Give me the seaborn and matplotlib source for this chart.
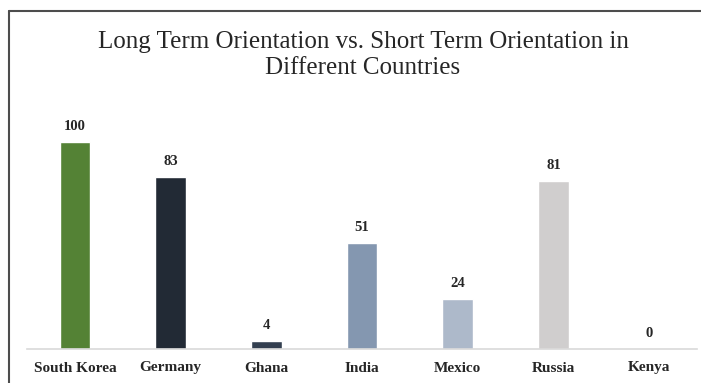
import matplotlib
matplotlib.use("Agg")
import matplotlib.pyplot as plt
from matplotlib.lines import Line2D
import seaborn as sns
import pandas as pd

countries = ["South Korea", "Germany", "Ghana", "India", "Mexico", "Russia", "Kenya"]
scores = [100, 83, 4, 51, 24, 81, 0]
bar_colors = ["#548235", "#222A35", "#333F50", "#8497B0", "#ADB9CA", "#D0CECE", "#D0CECE"]
title = "Long Term Orientation vs. Short Term Orientation in\nDifferent Countries"

df = pd.DataFrame({"country": countries, "score": scores})

sns.set_theme(style="white")
plt.rcParams["font.family"] = ["Liberation Serif", "DejaVu Serif"]

fig = plt.figure(figsize=(7.01, 3.83), dpi=100)
fig.patch.set_facecolor("white")
# axes: x from 27 to 697 px, y from 121 (top) to 349 (baseline) px
W, H = 701, 383
ax = fig.add_axes([27 / W, (H - 349) / H, 670 / W, 228 / H])

sns.barplot(data=df, x="country", y="score", hue="country", palette=bar_colors,
            legend=False, width=0.32, ax=ax, saturation=1)

ax.set_ylim(0, 110)
ax.set_xlim(-0.5, 6.5)
ax.set_xlabel("")
ax.set_ylabel("")
ax.set_yticks([])
for side in ["top", "right", "left"]:
    ax.spines[side].set_visible(False)
ax.spines["bottom"].set_color("#D9D9D9")
ax.spines["bottom"].set_linewidth(1.2)
ax.tick_params(axis="x", length=0, pad=9)
for lbl in ax.get_xticklabels():
    lbl.set_fontweight("bold")
    lbl.set_fontsize(11)
    lbl.set_color("#262626")

for i, v in enumerate(scores):
    ax.annotate(str(v), (i, v), xytext=(0, 6.5), textcoords="offset points",
                ha="center", va="bottom", fontsize=10.5, fontweight="bold",
                color="#262626")

fig.text(363 / W, 1 - 55 / H, title, ha="center", va="center",
         fontsize=18, color="#262626", linespacing=1.25)

# frame lines along the top and left edges
fig.add_artist(Line2D([9 / W, 1.0], [1 - 11 / H, 1 - 11 / H], color="#4D4D4D", lw=1.5))
fig.add_artist(Line2D([9 / W, 9 / W], [0.0, 1 - 11 / H], color="#4D4D4D", lw=1.5))

fig.savefig("out.png", dpi=100, facecolor="white")
